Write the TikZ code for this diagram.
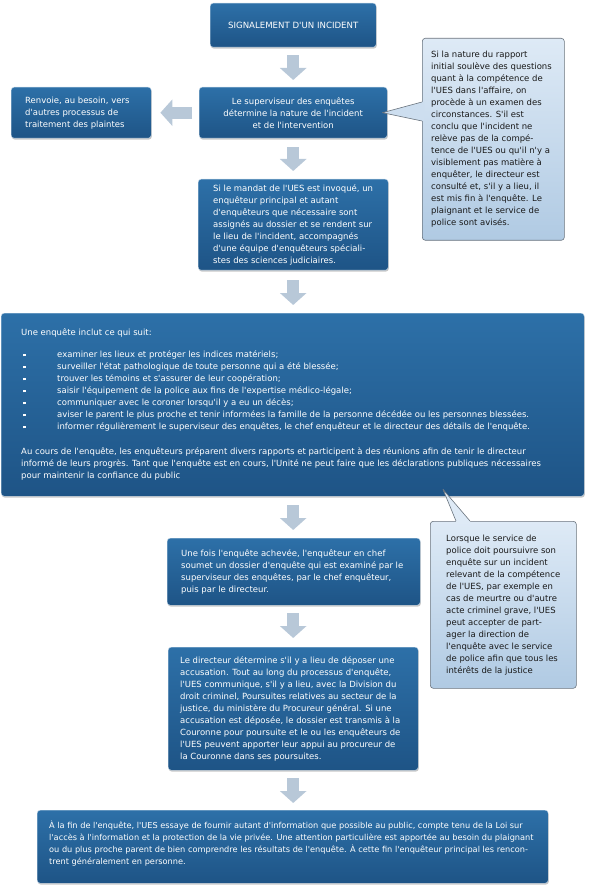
\documentclass[tikz,border=0pt]{standalone}
\usepackage{fontspec}
\newfontfamily\dv{DejaVu Sans}
\usetikzlibrary{arrows.meta,shadows,calc}
\definecolor{boxtop}{RGB}{45,112,168}
\definecolor{boxbot}{RGB}{30,84,134}
\definecolor{caltop}{RGB}{222,234,246}
\definecolor{calbot}{RGB}{176,202,227}
\definecolor{calline}{RGB}{105,115,125}
\definecolor{arrowc}{RGB}{184,200,216}
\definecolor{caltext}{RGB}{25,25,25}
\tikzset{
  box/.style={draw=white!70!boxtop, line width=0.4pt, rounded corners=3pt,
    top color=boxtop, bottom color=boxbot, anchor=north west, inner sep=0pt,
    drop shadow={shadow xshift=0.6pt, shadow yshift=-1.4pt, fill=black, opacity=0.22}},
  calbox/.style={draw=calline, line width=0.6pt, rounded corners=3pt,
    top color=caltop, bottom color=calbot, anchor=north west, inner sep=0pt},
  txt/.style={text=white, font=\dv\fontsize{8.5}{12}\selectfont, align=left,
    inner sep=0pt, anchor=west},
  ctxt/.style={text=white, font=\dv\fontsize{8.5}{12}\selectfont, align=center},
  caltxt/.style={text=caltext, font=\dv\fontsize{8.5}{12}\selectfont, align=left,
    inner sep=0pt, anchor=west},
  flow/.style={draw=arrowc, line width=12pt,
    -{Triangle[width=26pt,length=12pt]}},
}
\newcommand{\blt}{\makebox[36pt][l]{\hspace*{2pt}\raisebox{1.3pt}{\rule{2.4pt}{2.4pt}}}}
\begin{document}
\begin{tikzpicture}[x=1pt,y=-1pt]
\useasboundingbox (0,0) rectangle (595,890);

% boxes
\node[box, minimum width=166pt, minimum height=44pt] (b1) at (210,3) {};
\node[ctxt, font=\dv\fontsize{8.6}{12}\selectfont] (t1) at (b1.center) {SIGNALEMENT D'UN INCIDENT};

\node[box, minimum width=188pt, minimum height=51pt] (b2) at (199,87) {};
\node[ctxt] (t2) at (b2.center) {Le superviseur des enquêtes\\détermine la nature de l'incident\\et de l'intervention};

\node[box, minimum width=140pt, minimum height=51pt] (b0) at (11,87) {};
\node[txt] (t0) at ($(b0.west)+(14,0)$) {Renvoie, au besoin, vers\\d'autres processus de\\traitement des plaintes};

\node[box, minimum width=190pt, minimum height=91pt] (b3) at (198,179) {};
\node[txt] (t3) at ($(b3.west)+(15,0)$) {Si le mandat de l'UES est invoqué, un\\enquêteur principal et autant\\d'enquêteurs que nécessaire sont\\assignés au dossier et se rendent sur\\le lieu de l'incident, accompagnés\\d'une équipe d'enquêteurs spéciali-\\stes des sciences judiciaires.};

\node[box, minimum width=583pt, minimum height=183pt] (b4) at (1,313) {};
\node[txt] (t4) at ($(b4.west)+(20,0)$) {Une enquête inclut ce qui suit:\\[10pt]
\blt examiner les lieux et protéger les indices matériels;\\
\blt surveiller l'état pathologique de toute personne qui a été blessée;\\
\blt trouver les témoins et s'assurer de leur coopération;\\
\blt saisir l'équipement de la police aux fins de l'expertise médico-légale;\\
\blt communiquer avec le coroner lorsqu'il y a eu un décès;\\
\blt aviser le parent le plus proche et tenir informées la famille de la personne décédée ou les personnes blessées.\\
\blt informer régulièrement le superviseur des enquêtes, le chef enquêteur et le directeur des détails de l'enquête.\\[13pt]
Au cours de l'enquête, les enquêteurs préparent divers rapports et participent à des réunions afin de tenir le directeur\\
informé de leurs progrès. Tant que l'enquête est en cours, l'Unité ne peut faire que les déclarations publiques nécessaires\\
pour maintenir la confiance du public};

\node[box, minimum width=253pt, minimum height=67pt] (b5) at (167,538) {};
\node[txt] (t5) at ($(b5.west)+(14,0)$) {Une fois l'enquête achevée, l'enquêteur en chef\\soumet un dossier d'enquête qui est examiné par le\\superviseur des enquêtes, par le chef enquêteur,\\puis par le directeur.};

\node[box, minimum width=250pt, minimum height=123pt] (b6) at (168,647) {};
\node[txt] (t6) at ($(b6.west)+(12,0)$) {Le directeur détermine s'il y a lieu de déposer une\\accusation. Tout au long du processus d'enquête,\\l'UES communique, s'il y a lieu, avec la Division du\\droit criminel, Poursuites relatives au secteur de la\\justice, du ministère du Procureur général. Si une\\accusation est déposée, le dossier est transmis à la\\Couronne pour poursuite et le ou les enquêteurs de\\l'UES peuvent apporter leur appui au procureur de\\la Couronne dans ses poursuites.};

\node[box, minimum width=511pt, minimum height=73pt] (b7) at (37,810) {};
\node[txt, font=\dv\fontsize{8.2}{12}\selectfont] (t7) at ($(b7.west)+(12,-3)$) {À la fin de l'enquête, l'UES essaye de fournir autant d'information que possible au public, compte tenu de la Loi sur\\l'accès à l'information et la protection de la vie privée. Une attention particulière est apportée au besoin du plaignant\\ou du plus proche parent de bien comprendre les résultats de l'enquête. À cette fin l'enquêteur principal les rencon-\\trent généralement en personne.};

% flow arrows
\draw[flow, shorten <=8pt, shorten >=7pt] (b1.south) -- (b1.south |- b2.north);
\draw[flow, shorten <=9pt, shorten >=8pt] (b2.south) -- (b2.south |- b3.north);
\draw[flow, shorten <=10pt, shorten >=8pt] (b3.south) -- (b3.south |- b4.north);
\draw[flow, shorten <=9pt, shorten >=8pt] (b3.south |- b4.south) -- (b3.south |- b5.north);
\draw[flow, shorten <=8pt, shorten >=9pt] (b3.south |- b5.south) -- (b3.south |- b6.north);
\draw[flow, shorten <=8pt, shorten >=7pt] (b3.south |- b6.south) -- (b3.south |- b7.north);
\draw[flow, shorten <=7pt, shorten >=9pt] (b2.west) -- (b2.west -| b0.east);

% callout 1
\node[calbox, minimum width=142pt, minimum height=202pt] (c1) at (422,38) {};
\node[caltxt] (ct1) at ($(c1.west)+(9,0)$) {Si la nature du rapport\\initial soulève des questions\\quant à la compétence de\\l'UES dans l'affaire, on\\procède à un examen des\\circonstances. S'il est\\conclu que l'incident ne\\relève pas de la compé-\\tence de l'UES ou qu'il n'y a\\visiblement pas matière à\\enquêter, le directeur est\\consulté et, s'il y a lieu, il\\est mis fin à l'enquête. Le\\plaignant et le service de\\police sont avisés.};
\coordinate (p1) at ($(b2.east)+(-5,0)$);
\coordinate (p1a) at ($(c1.north west)+(0,64)$);
\coordinate (p1b) at ($(c1.north west)+(0,83)$);
\fill[caltop!62!calbot] (p1) -- (p1a) -- ($(p1a)+(2,0)$) -- ($(p1b)+(2,0)$) -- (p1b) -- cycle;
\draw[calline, line width=0.6pt, line join=round] (p1a) -- (p1) -- (p1b);

% callout 2
\node[calbox, minimum width=146pt, minimum height=167pt] (c2) at (430,521) {};
\node[caltxt] (ct2) at ($(c2.west)+(16,0)$) {Lorsque le service de\\police doit poursuivre son\\enquête sur un incident\\relevant de la compétence\\de l'UES, par exemple en\\cas de meurtre ou d'autre\\acte criminel grave, l'UES\\peut accepter de part-\\ager la direction de\\l'enquête avec le service\\de police afin que tous les\\intérêts de la justice};
\coordinate (p2) at ($(b4.south west)+(442,-7)$);
\coordinate (p2a) at ($(c2.north west)+(26,0)$);
\coordinate (p2b) at ($(c2.north west)+(40,0)$);
\fill[caltop] (p2) -- (p2a) -- ($(p2a)+(0,2)$) -- ($(p2b)+(0,2)$) -- (p2b) -- cycle;
\draw[calline, line width=0.6pt, line join=round] (p2a) -- (p2) -- (p2b);
\end{tikzpicture}
\end{document}
